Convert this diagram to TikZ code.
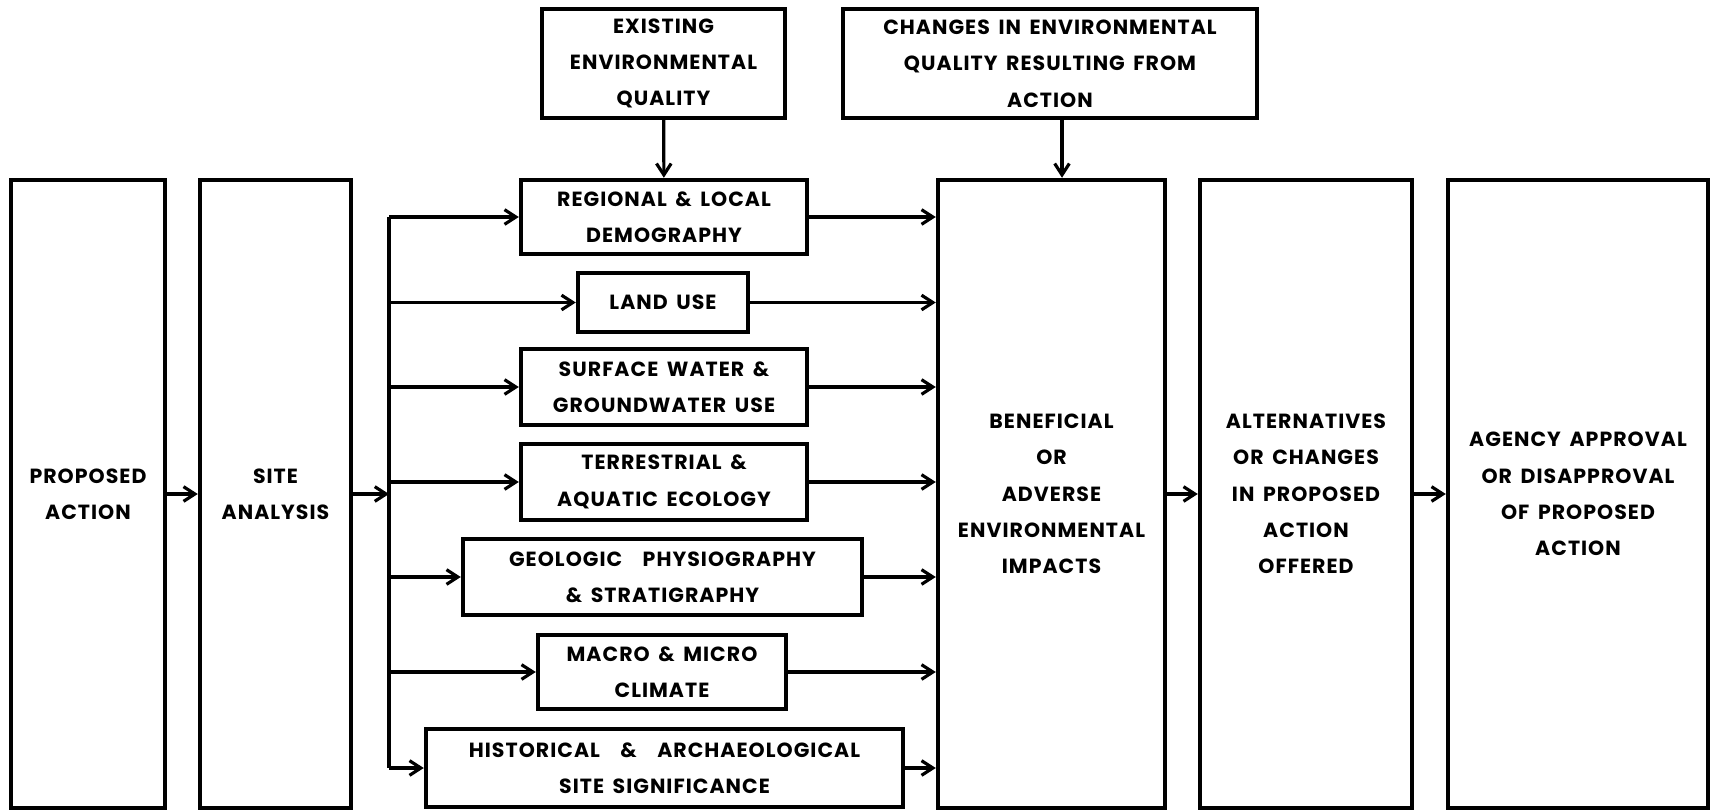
\documentclass[tikz,border=0pt]{standalone}
\usepackage{fontspec}
\setmainfont{Poppins}[LetterSpace=5.0, WordSpace=1.6]
\usepackage{tikz}
\usetikzlibrary{arrows.meta, positioning}

\begin{document}
\begin{tikzpicture}[auto, x=0.3mm, y=-0.3mm]
		\tikzstyle{block} = [draw=black, line width=3.8pt, align=center, inner sep=0pt, font=\fontsize{17.5}{31}\selectfont\bfseries]
		\tikzstyle{tall} = [block, minimum height=188.4mm]
		\tikzstyle{item} = [block, minimum width=85.8mm, minimum height=22.8mm]
		\tikzstyle{wire} = [line width=2.7pt]
		\tikzstyle{arrow} = [wire, -{Straight Barb[length=3.4mm, width=4.4mm]}]

		\useasboundingbox (0, 0) rectangle (1710, 811);

		% main chain
		\node[tall, minimum width=46.2mm]	at (88, 494)		(prop)	{PROPOSED\\ACTION};
		\node[tall, minimum width=45.3mm]	at (275.5, 494)		(site)	{SITE\\ANALYSIS};
		\node[tall, minimum width=68.1mm]	at (1051.5, 494)	(ben)	{BENEFICIAL\\OR\\ADVERSE\\ENVIRONMENTAL\\IMPACTS};
		\node[tall, minimum width=63.6mm]	at (1306, 494)		(alt)	{ALTERNATIVES\\OR CHANGES\\IN PROPOSED\\ACTION\\OFFERED};
		\node[tall, minimum width=78mm]		at (1578, 494)		(agy)	{AGENCY APPROVAL\\OR DISAPPROVAL\\OF PROPOSED\\ACTION};

		% inputs from above
		\node[block, minimum width=72.9mm, minimum height=32.7mm]	at (663.5, 63.5)	(exist)	{EXISTING\\ENVIRONMENTAL\\QUALITY};
		\node[block, minimum width=124.2mm, minimum height=32.7mm]	at (1050, 63.5)		(chg)	{CHANGES IN ENVIRONMENTAL\\QUALITY RESULTING FROM\\ACTION};

		% site analysis items
		\node[item, minimum height=22.2mm]	at (664, 217)		(reg)	{REGIONAL \& LOCAL\\DEMOGRAPHY};
		\node[item, minimum width=51mm, minimum height=17.7mm]	at (663, 302.5)	(land)	{LAND USE};
		\node[item]							at (664, 387)		(surf)	{SURFACE WATER \&\\GROUNDWATER USE};
		\node[item]							at (664, 482)		(terr)	{TERRESTRIAL \&\\AQUATIC ECOLOGY};
		\node[item, minimum width=119.7mm]	at (662.5, 577)		(geo)	{GEOLOGIC\quad PHYSIOGRAPHY\\\& STRATIGRAPHY};
		\node[item, minimum width=74.4mm, minimum height=22.2mm]	at (662, 672)	(mac)	{MACRO \& MICRO\\CLIMATE};
		\node[item, minimum width=143.1mm, minimum height=23.4mm]	at (664.5, 768)	(hist)	{HISTORICAL\quad\&\quad ARCHAEOLOGICAL\\SITE SIGNIFICANCE};

		\coordinate (trunk)	at (389, 0);
		\coordinate (drop)	at (1062, 0);

		\draw[wire] (trunk |- reg.west) -- (trunk |- hist.west);

		\path[arrow]
		(prop)				edge	(site)
		(site.east)			edge	(site.east -| trunk)
		(ben)				edge	(alt)
		(alt)				edge	(agy)
		(exist)				edge	(reg)
		(drop |- chg.south)	edge	(drop |- ben.north)
		(trunk |- reg.west)		edge	(reg.west)
		(trunk |- land.west)	edge	(land.west)
		(trunk |- surf.west)	edge	(surf.west)
		(trunk |- terr.west)	edge	(terr.west)
		(trunk |- geo.west)		edge	(geo.west)
		(trunk |- mac.west)		edge	(mac.west)
		(trunk |- hist.west)	edge	(hist.west)
		(reg.east)			edge	(ben.west |- reg.east)
		(land.east)			edge	(ben.west |- land.east)
		(surf.east)			edge	(ben.west |- surf.east)
		(terr.east)			edge	(ben.west |- terr.east)
		(geo.east)			edge	(ben.west |- geo.east)
		(mac.east)			edge	(ben.west |- mac.east)
		(hist.east)			edge	(ben.west |- hist.east);
	\end{tikzpicture}
\end{document}
